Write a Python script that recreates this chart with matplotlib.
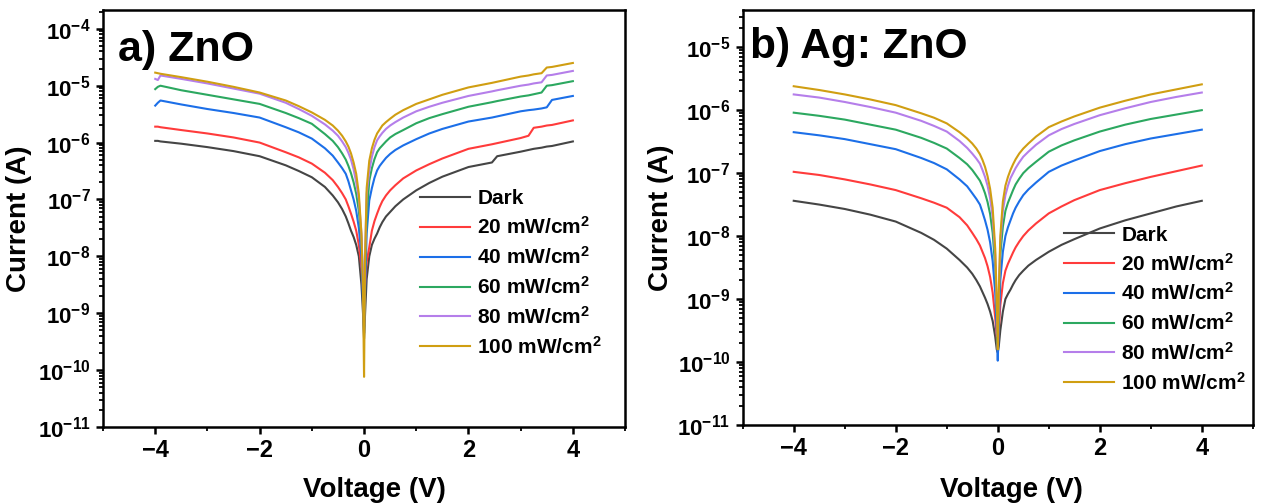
import numpy as np
import matplotlib
matplotlib.use("Agg")
import matplotlib.pyplot as plt
from matplotlib.ticker import FixedLocator, NullFormatter

plt.rcParams["font.family"] = ["Liberation Sans", "DejaVu Sans"]
plt.rcParams["font.weight"] = "bold"
plt.rcParams["mathtext.fontset"] = "custom"
plt.rcParams["mathtext.rm"] = "Liberation Sans:bold"
plt.rcParams["mathtext.bf"] = "Liberation Sans:bold"
plt.rcParams["mathtext.default"] = "bf"

# ── data: log10(current / A) ───────────────────────────────────────
LABELS = ["Dark", "20 mW/cm$^2$", "40 mW/cm$^2$", "60 mW/cm$^2$",
          "80 mW/cm$^2$", "100 mW/cm$^2$"]
COLORS = ["#454545", "#FF3B3B", "#1C6FE8", "#2CA860", "#B57EEA", "#D09E12"]

# a) ZnO
ZNO_V = [-4, -3.95, -3.9, -3.5, -3, -2.5, -2, -1.5, -1.25, -1,
         -0.75, -0.6, -0.5, -0.42, -0.35, -0.3, -0.25, -0.2, -0.15, -0.1,
         -0.05, -0.02, 0, 0.02, 0.05, 0.1, 0.15, 0.2, 0.25, 0.3,
         0.35, 0.42, 0.5, 0.6, 0.75, 1, 1.25, 1.5, 2, 2.45,
         2.55, 3, 3.15, 3.25, 3.4, 3.5, 3.6, 4]
ZNO_DARK = [-5.97, -5.97, -5.98, -6.02, -6.08, -6.15, -6.24, -6.40, -6.50, -6.61,
            -6.78, -6.93, -7.05, -7.17, -7.30, -7.42, -7.55, -7.66, -7.80, -8.00,
            -8.50, -9.00, -9.45, -9.00, -8.40, -8.00, -7.80, -7.69, -7.60, -7.49,
            -7.40, -7.30, -7.22, -7.12, -7.00, -6.84, -6.71, -6.60, -6.43, -6.35,
            -6.24, -6.16, -6.13, -6.11, -6.09, -6.07, -6.06, -5.98]
ZNO_20 = [-5.72, -5.72, -5.73, -5.78, -5.84, -5.91, -6.00, -6.17, -6.26, -6.37,
          -6.53, -6.66, -6.78, -6.89, -7.00, -7.12, -7.25, -7.39, -7.55, -7.80,
          -8.20, -8.60, -8.80, -8.50, -8.10, -7.84, -7.55, -7.38, -7.25, -7.13,
          -7.03, -6.93, -6.84, -6.75, -6.63, -6.49, -6.38, -6.28, -6.11, -6.03,
          -6.01, -5.92, -5.88, -5.74, -5.72, -5.70, -5.69, -5.61]
ZNO_40 = [-5.35, -5.30, -5.26, -5.33, -5.41, -5.48, -5.56, -5.73, -5.82, -5.93,
          -6.10, -6.23, -6.35, -6.45, -6.55, -6.68, -6.84, -7.00, -7.20, -7.50,
          -8.00, -8.80, -9.35, -8.60, -7.60, -7.02, -6.80, -6.62, -6.49, -6.41,
          -6.35, -6.27, -6.20, -6.13, -6.05, -5.94, -5.84, -5.76, -5.63, -5.56,
          -5.54, -5.45, -5.43, -5.42, -5.40, -5.38, -5.25, -5.18]
ZNO_60 = [-5.06, -5.02, -5.00, -5.08, -5.16, -5.24, -5.32, -5.48, -5.57, -5.67,
          -5.85, -5.97, -6.08, -6.19, -6.30, -6.41, -6.54, -6.70, -6.90, -7.20,
          -7.70, -8.40, -9.00, -8.20, -7.30, -6.67, -6.45, -6.29, -6.17, -6.10,
          -6.05, -5.98, -5.91, -5.85, -5.78, -5.66, -5.57, -5.50, -5.37, -5.29,
          -5.27, -5.19, -5.17, -5.15, -5.12, -5.00, -4.99, -4.92]
ZNO_80 = [-4.88, -4.90, -4.82, -4.88, -4.96, -5.05, -5.14, -5.30, -5.41, -5.53,
          -5.68, -5.79, -5.88, -5.98, -6.08, -6.18, -6.30, -6.47, -6.70, -7.00,
          -7.60, -8.40, -9.20, -8.00, -6.90, -6.50, -6.25, -6.08, -5.96, -5.89,
          -5.83, -5.76, -5.70, -5.64, -5.56, -5.45, -5.37, -5.30, -5.18, -5.10,
          -5.08, -5.00, -4.98, -4.96, -4.94, -4.82, -4.81, -4.74]
ZNO_100 = [-4.77, -4.78, -4.79, -4.85, -4.93, -5.02, -5.12, -5.26, -5.36, -5.47,
           -5.60, -5.70, -5.79, -5.88, -5.98, -6.07, -6.19, -6.35, -6.55, -6.90,
           -7.60, -8.60, -10.12, -8.00, -6.80, -6.32, -6.10, -5.95, -5.84, -5.77,
           -5.70, -5.64, -5.58, -5.51, -5.43, -5.32, -5.24, -5.16, -5.03, -4.95,
           -4.93, -4.84, -4.82, -4.80, -4.78, -4.68, -4.67, -4.60]

# b) Ag: ZnO
AG_V = [-4, -3.5, -3, -2.5, -2, -1.5, -1.25, -1, -0.75, -0.6,
        -0.5, -0.42, -0.35, -0.3, -0.25, -0.2, -0.15, -0.1, -0.05, -0.02,
        0, 0.02, 0.05, 0.1, 0.15, 0.2, 0.25, 0.3, 0.35, 0.42,
        0.5, 0.6, 0.75, 1, 1.25, 1.5, 2, 2.5, 3, 3.5,
        4]
AG_DARK = [-7.44, -7.50, -7.57, -7.66, -7.77, -7.95, -8.06, -8.20, -8.38, -8.50,
           -8.60, -8.70, -8.80, -8.89, -8.98, -9.08, -9.20, -9.35, -9.60, -9.80,
           -9.85, -9.75, -9.50, -9.20, -9.00, -8.92, -8.85, -8.77, -8.70, -8.62,
           -8.55, -8.47, -8.38, -8.25, -8.14, -8.05, -7.88, -7.75, -7.64, -7.53,
           -7.44]
AG_20 = [-6.98, -7.03, -7.10, -7.18, -7.27, -7.40, -7.47, -7.55, -7.70, -7.83,
         -7.95, -8.05, -8.15, -8.25, -8.35, -8.48, -8.65, -8.90, -9.30, -9.60,
         -9.80, -9.50, -9.10, -8.75, -8.55, -8.44, -8.35, -8.26, -8.18, -8.09,
         -8.00, -7.91, -7.80, -7.64, -7.53, -7.43, -7.27, -7.16, -7.06, -6.97,
         -6.88]
AG_40 = [-6.35, -6.40, -6.46, -6.54, -6.62, -6.76, -6.84, -6.94, -7.10, -7.21,
         -7.32, -7.41, -7.50, -7.62, -7.75, -7.90, -8.10, -8.40, -8.90, -9.50,
         -9.98, -9.40, -8.70, -8.25, -8.00, -7.86, -7.75, -7.64, -7.55, -7.45,
         -7.35, -7.26, -7.15, -6.98, -6.88, -6.80, -6.65, -6.54, -6.45, -6.38,
         -6.31]
AG_60 = [-6.04, -6.09, -6.15, -6.23, -6.31, -6.44, -6.52, -6.61, -6.76, -6.86,
         -6.95, -7.04, -7.12, -7.21, -7.32, -7.46, -7.65, -7.95, -8.50, -9.20,
         -9.70, -9.10, -8.30, -7.85, -7.60, -7.47, -7.37, -7.27, -7.18, -7.09,
         -7.00, -6.92, -6.82, -6.66, -6.56, -6.48, -6.34, -6.23, -6.14, -6.07,
         -6.00]
AG_80 = [-5.75, -5.80, -5.87, -5.95, -6.04, -6.17, -6.25, -6.34, -6.49, -6.60,
         -6.69, -6.77, -6.85, -6.95, -7.06, -7.20, -7.40, -7.70, -8.30, -9.10,
         -9.60, -9.00, -8.10, -7.60, -7.35, -7.20, -7.08, -7.00, -6.92, -6.83,
         -6.74, -6.66, -6.55, -6.40, -6.30, -6.22, -6.08, -5.97, -5.87, -5.79,
         -5.72]
AG_100 = [-5.62, -5.68, -5.75, -5.83, -5.92, -6.05, -6.12, -6.21, -6.35, -6.45,
          -6.53, -6.61, -6.70, -6.79, -6.90, -7.05, -7.25, -7.55, -8.20, -9.00,
          -9.80, -8.90, -8.00, -7.45, -7.20, -7.06, -6.95, -6.86, -6.78, -6.69,
          -6.61, -6.53, -6.42, -6.27, -6.18, -6.10, -5.96, -5.85, -5.75, -5.67,
          -5.59]

X_TICKS = [-4, -2, 0, 2, 4]
X_MINOR = [-5, -3, -1, 1, 3, 5]
X_TICK_LABELS = ["\u22124", "\u22122", "0", "2", "4"]


def style_axes(ax, ymax_exp, ytop):
    ax.set_yscale("log")
    ax.set_xlim(-5, 5)
    ax.set_ylim(1e-11, ytop)
    ax.set_xticks(X_TICKS)
    ax.set_xticklabels(X_TICK_LABELS, fontsize=17, fontweight="bold")
    ax.xaxis.set_minor_locator(FixedLocator(X_MINOR))
    exps = list(range(-11, ymax_exp + 1))
    ax.yaxis.set_major_locator(FixedLocator([10.0 ** e for e in exps]))
    ax.set_yticklabels([f"$10^{{{e}}}$" for e in exps], fontsize=16)
    minors = [m * 10.0 ** e for e in range(-11, ymax_exp + 1)
              for m in range(2, 10)]
    ax.yaxis.set_minor_locator(FixedLocator(minors))
    ax.yaxis.set_minor_formatter(NullFormatter())
    ax.tick_params(which="major", direction="out", length=5, width=1.8,
                   pad=4)
    ax.tick_params(which="minor", direction="out", length=3, width=1.3)
    for s in ax.spines.values():
        s.set_linewidth(1.8)
    ax.set_xlabel("Voltage (V)", fontsize=20, fontweight="bold")
    ax.set_ylabel("Current (A)", fontsize=20, fontweight="bold")


fig = plt.figure(figsize=(12.61, 5.04), dpi=100)
ax1 = fig.add_axes([0.0817, 0.153, 0.414, 0.827])
ax2 = fig.add_axes([0.589, 0.157, 0.4045, 0.823])

zno = [ZNO_DARK, ZNO_20, ZNO_40, ZNO_60, ZNO_80, ZNO_100]
ag = [AG_DARK, AG_20, AG_40, AG_60, AG_80, AG_100]

for logs, lab, col in zip(zno, LABELS, COLORS):
    ax1.plot(ZNO_V, 10.0 ** np.array(logs), color=col, lw=1.5, label=lab)
for logs, lab, col in zip(ag, LABELS, COLORS):
    ax2.plot(AG_V, 10.0 ** np.array(logs), color=col, lw=1.5, label=lab)

style_axes(ax1, -4, 10 ** -3.67)
style_axes(ax2, -5, 10 ** -4.41)

ax1.xaxis.set_label_coords(0.52, -0.12)
ax1.yaxis.set_label_coords(-0.137, 0.5)
ax2.xaxis.set_label_coords(0.527, -0.125)
ax2.yaxis.set_label_coords(-0.135, 0.5)

ax1.text(0.029, 0.878, "a) ZnO", transform=ax1.transAxes, fontsize=31,
         fontweight="bold", va="baseline")
ax2.text(0.014, 0.884, "b) Ag: ZnO", transform=ax2.transAxes, fontsize=30.5,
         fontweight="bold", va="baseline")

leg_kw = dict(frameon=False, fontsize=15, handlelength=2.4,
              handletextpad=0.35, labelspacing=0.38, borderpad=0,
              borderaxespad=0, loc="center left")
ax1.legend(bbox_to_anchor=(0.607, 0.368), **leg_kw)
ax2.legend(bbox_to_anchor=(0.63, 0.278), **leg_kw)

fig.savefig("out.png", dpi=100)
